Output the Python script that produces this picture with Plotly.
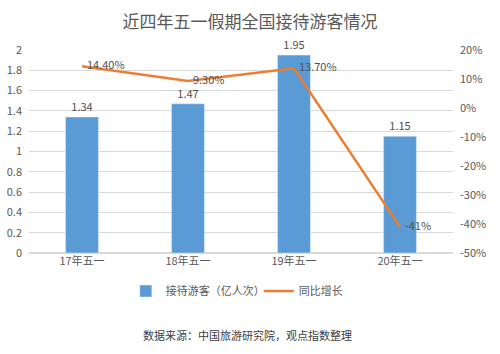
import plotly.graph_objects as go

categories = ["17年五一", "18年五一", "19年五一", "20年五一"]
visitors = [1.34, 1.47, 1.95, 1.15]
growth = [14.4, 9.3, 13.7, -41]
growth_labels = ["  14.40%", "  9.30%", "  13.70%", "  -41%"]
left_ticks = [0, 0.2, 0.4, 0.6, 0.8, 1, 1.2, 1.4, 1.6, 1.8, 2]
left_tick_text = ["0", "0.2", "0.4", "0.6", "0.8", "1", "1.2", "1.4", "1.6", "1.8", "2"]
right_ticks = [-50, -40, -30, -20, -10, 0, 10, 20]

FONT = "Noto Sans CJK SC, Microsoft YaHei, sans-serif"
TXT = "#595959"

fig = go.Figure()
fig.add_trace(go.Bar(
    x=categories, y=visitors, name="接待游客（亿人次）",
    marker_color="#5B9BD5", width=0.31,
    text=[f"{v:.2f}" for v in visitors], textposition="outside",
    textfont=dict(size=11, color="#505050", family=FONT),
    cliponaxis=False,
))
fig.add_trace(go.Scatter(
    x=categories, y=growth, name="同比增长", yaxis="y2",
    mode="lines+text", line=dict(color="#ED7D31", width=2.5),
    text=growth_labels, textposition="middle right",
    textfont=dict(size=11, color="#505050", family=FONT),
    cliponaxis=False,
))

fig.update_layout(
    width=500, height=354,
    margin=dict(l=29, r=47, t=50, b=101, autoexpand=False),
    paper_bgcolor="white", plot_bgcolor="white",
    font=dict(family=FONT, color=TXT, size=11),
    title=dict(text="近四年五一假期全国接待游客情况", x=0.5, xanchor="center",
               y=1 - 22 / 354, yanchor="middle",
               font=dict(size=17, color=TXT, family=FONT)),
    showlegend=True,
    legend=dict(orientation="h", x=0.542, xanchor="center", y=-0.187, yanchor="middle",
                font=dict(size=11, color=TXT), traceorder="normal",
                itemwidth=30, entrywidth=88, entrywidthmode="pixels"),
    bargap=0.69,
    xaxis=dict(showgrid=False, showline=False, ticks="", automargin=False,
               tickfont=dict(size=11, color=TXT)),
    yaxis=dict(range=[0, 2], tickvals=left_ticks, ticktext=left_tick_text,
               showgrid=True, gridcolor="#D9D9D9", gridwidth=1, automargin=False,
               zeroline=True, zerolinecolor="#D9D9D9",
               tickfont=dict(size=11, color=TXT), ticklabelstandoff=6),
    yaxis2=dict(range=[-50, 20], tickvals=right_ticks,
                ticktext=[f"{t}%" for t in right_ticks], automargin=False,
                overlaying="y", side="right", showgrid=False, zeroline=False,
                tickfont=dict(size=11, color=TXT), ticklabelstandoff=6),
    annotations=[dict(text="数据来源：中国旅游研究院，观点指数整理", xref="paper", yref="paper",
                      x=0.515, y=-0.404, xanchor="center", yanchor="middle", showarrow=False,
                      font=dict(size=11, color="#404040", family=FONT))],
)

fig.write_html("out.html")
